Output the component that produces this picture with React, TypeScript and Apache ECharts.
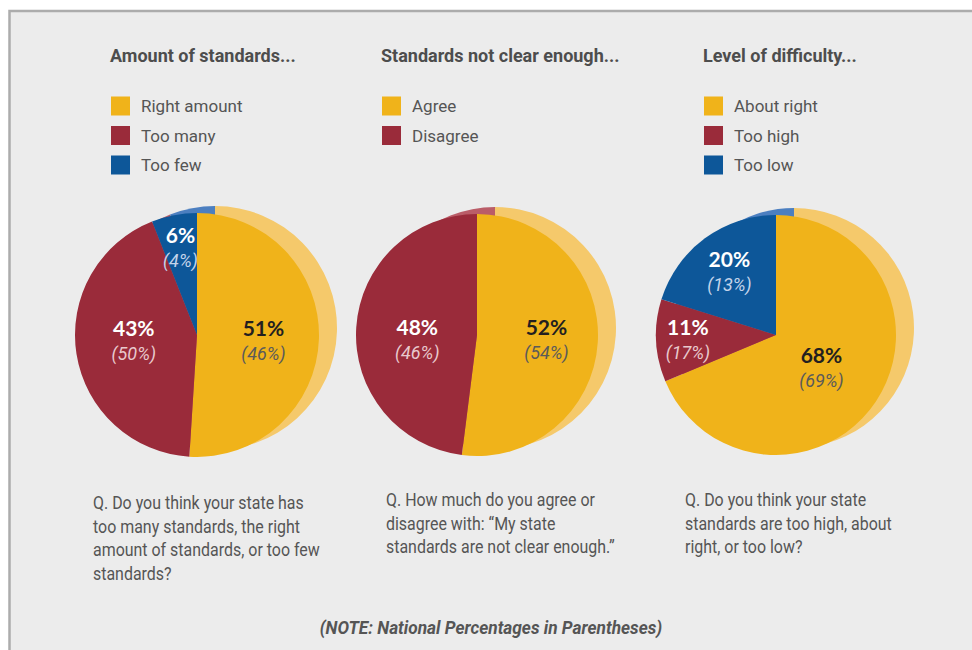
import React, { useEffect, useRef } from "react";
import * as echarts from "echarts";

// ---- Data ----
const amountCategories = ["Right amount", "Too many", "Too few"];
const amountState = [51, 43, 6];
const amountNational = [46, 50, 4];

const clarityCategories = ["Agree", "Disagree"];
const clarityState = [52, 48];
const clarityNational = [54, 46];

const difficultyCategories = ["About right", "Too high", "Too low"];
const difficultyState = [68, 11, 20];
const difficultyNational = [69, 17, 13];

const chartTitles = ["Amount of standards...", "Standards not clear enough...", "Level of difficulty..."];
const questions = [
  "Q. Do you think your state has\ntoo many standards, the right\namount of standards, or too few\nstandards?",
  "Q. How much do you agree or\ndisagree with: “My state\nstandards are not clear enough.”",
  "Q. Do you think your state\nstandards are too high, about\nright, or too low?",
];
const noteText = "(NOTE: National Percentages in Parentheses)";

// ---- Styles ----
const FONT = 'Roboto, "Open Sans", sans-serif';
const NUM_FONT = 'Lato, "Open Sans", sans-serif';
const YELLOW = "#F0B31A";
const RED = "#9A2B3A";
const BLUE = "#0D5799";
const YELLOW_L = "#F5C96B";
const RED_L = "#BA5D68";
const BLUE_L = "#4C7FC0";
const TEXT = "#555555";

const labelStyles: Record<string, { a: string; b: string }> = {
  [YELLOW]: { a: "#231f20", b: "#5a5a5a" },
  [RED]: { a: "#ffffff", b: "#e8c9cd" },
  [BLUE]: { a: "#ffffff", b: "#c4d4ea" },
};

const pies = [
  {
    id: "amount",
    cats: amountCategories,
    state: amountState,
    nat: amountNational,
    colors: [YELLOW, RED, BLUE],
    light: [YELLOW_L, RED_L, BLUE_L],
    center: [197, 335],
    r: 122,
    labelFrac: [0.52, 0.5, 0.7],
    labelDy: [3, -5, -1],
    legendLeft: 111,
    qLeft: 93,
    qTop: 491,
  },
  {
    id: "clarity",
    cats: clarityCategories,
    state: clarityState,
    nat: clarityNational,
    colors: [YELLOW, RED],
    light: [YELLOW_L, RED_L],
    center: [477, 335],
    r: 121,
    labelFrac: [0.55, 0.47],
    labelDy: [0, 8],
    legendLeft: 382,
    qLeft: 386,
    qTop: 488,
  },
  {
    id: "difficulty",
    cats: difficultyCategories,
    state: difficultyState,
    nat: difficultyNational,
    colors: [YELLOW, RED, BLUE],
    light: [YELLOW_L, RED_L, BLUE_L],
    center: [776, 335],
    r: 120,
    labelFrac: [0.43, 0.71, 0.63],
    labelDy: [2, 0, 0],
    legendLeft: 704,
    qLeft: 685,
    qTop: 488,
  },
];

function buildOption() {
  const series: any[] = [];
  pies.forEach((p) => {
    series.push({
      type: "pie",
      name: p.id + "-main",
      center: p.center,
      radius: [0, p.r],
      startAngle: 90,
      clockwise: true,
      avoidLabelOverlap: false,
      silent: true,
      z: 2,
      label: { show: false },
      labelLine: { show: false },
      emphasis: { disabled: true },
      data: p.cats.map((c, i) => ({ name: c, value: p.state[i], itemStyle: { color: p.colors[i] } })),
    });
    series.push({
      type: "pie",
      name: p.id + "-shadow",
      center: [p.center[0] + 18, p.center[1] - 7],
      radius: [0, p.r],
      startAngle: 90,
      clockwise: true,
      avoidLabelOverlap: false,
      silent: true,
      z: 1,
      label: { show: false },
      labelLine: { show: false },
      emphasis: { disabled: true },
      data: p.cats.map((c, i) => ({ name: c, value: p.state[i], itemStyle: { color: p.light[i] } })),
    });
    p.cats.forEach((_, i) => {
      const ls = labelStyles[p.colors[i]];
      const dy = p.labelDy[i];
      const padding = dy >= 0 ? [2 * dy, 0, 0, 0] : [0, 0, -2 * dy, 0];
      series.push({
        type: "pie",
        name: p.id + "-label-" + i,
        center: p.center,
        radius: [0, 2 * p.labelFrac[i] * p.r],
        startAngle: 90,
        clockwise: true,
        avoidLabelOverlap: false,
        silent: true,
        z: 3,
        labelLine: { show: false },
        emphasis: { disabled: true },
        label: {
          show: true,
          position: "inside",
          padding,
          formatter: `{a|${p.state[i]}%}\n{b|(${p.nat[i]}%)}`,
          rich: {
            a: { fontFamily: NUM_FONT, fontWeight: "bold", fontSize: 21, color: ls.a, lineHeight: 26 },
            b: { fontFamily: FONT, fontStyle: "italic", fontSize: 18, color: ls.b, lineHeight: 26 },
          },
        },
        data: p.cats.map((c, j) => ({
          name: c,
          value: p.state[j],
          itemStyle: { color: "rgba(0,0,0,0)" },
          label: { show: j === i },
        })),
      });
    });
  });

  const legends = pies.map((p) => ({
    data: p.cats,
    orient: "vertical",
    left: p.legendLeft,
    top: 96.5,
    padding: 0,
    itemWidth: 19,
    itemHeight: 19,
    itemGap: 10.5,
    icon: "rect",
    selectedMode: false,
    textStyle: { color: TEXT, fontSize: 17, fontFamily: FONT, padding: [2, 0, 0, 6] },
  }));

  const titles = pies.map((p, i) => ({
    text: chartTitles[i],
    left: p.legendLeft - 1,
    top: 46,
    padding: 0,
    textStyle: { color: "#4d4d4d", fontSize: 18, fontWeight: "bold", fontFamily: FONT },
  }));

  const graphic: any[] = [
    {
      type: "rect",
      silent: true,
      z: -10,
      shape: { x: 9.5, y: 11, width: 1000, height: 700 },
      style: { fill: "#ececec", stroke: "#acacac", lineWidth: 2.5 },
    },
    ...pies.map((p, i) => ({
      type: "text",
      silent: true,
      x: p.qLeft,
      y: p.qTop,
      scaleX: 0.84,
      style: {
        text: questions[i],
        fill: TEXT,
        fontSize: 19,
        fontFamily: FONT,
        lineHeight: 23.5,
        align: "left",
        verticalAlign: "top",
      },
    })),
    {
      type: "text",
      silent: true,
      x: 491,
      y: 627,
      scaleX: 0.91,
      style: {
        text: noteText,
        fill: TEXT,
        fontSize: 19,
        fontWeight: "bold",
        fontStyle: "italic",
        fontFamily: FONT,
        align: "center",
        verticalAlign: "middle",
      },
    },
  ];

  return {
    animation: false,
    backgroundColor: "#ffffff",
    title: titles,
    legend: legends,
    graphic,
    series,
  };
}

export default function App() {
  const ref = useRef<HTMLDivElement>(null);
  useEffect(() => {
    if (!ref.current) return;
    const chart = echarts.init(ref.current, null, { renderer: "svg" });
    chart.setOption(buildOption() as any);
    return () => chart.dispose();
  }, []);
  return (
    <div
      ref={ref}
      style={{ position: "absolute", left: 0, top: 0, width: 972, height: 650, background: "#fff" }}
    />
  );
}
